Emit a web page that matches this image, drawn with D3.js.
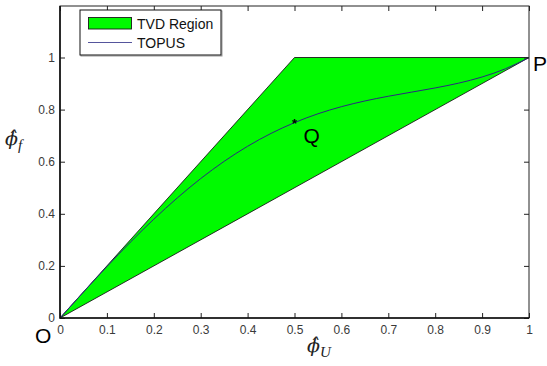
<!DOCTYPE html>
<html>
<head>
<meta charset="utf-8">
<script src="https://cdn.jsdelivr.net/npm/d3@7/dist/d3.min.js"></script>
<style>
  html, body { margin: 0; padding: 0; background: #fff; }
  svg { display: block; }
  .tick text { font-family: "Liberation Sans", Arial, sans-serif; font-size: 12px; fill: #3a3a3a; }
  .tick line { stroke: #222; stroke-width: 1; }
</style>
</head>
<body>
<svg id="chart" width="547" height="366"></svg>
<script>
// Normalised upwind value (phi_U) and face value (phi_f) of the TOPUS scheme
const topusU = [0, 0.05, 0.1, 0.15, 0.2, 0.25, 0.3, 0.35, 0.4, 0.45, 0.5,
                0.55, 0.6, 0.65, 0.7, 0.75, 0.8, 0.85, 0.9, 0.95, 1];
const topusF = [0, 0.0996, 0.1972, 0.2909, 0.3792, 0.4609, 0.5352, 0.6014, 0.6592, 0.7086, 0.75,
                0.7839, 0.8112, 0.8331, 0.8512, 0.8672, 0.8832, 0.9016, 0.9252, 0.9569, 1];

// Corners of the TVD region in the normalised variable diagram
const tvdU = [0, 0.5, 1];
const tvdF = [0, 1, 1];

// Axis ticks
const xTicks = [0, 0.1, 0.2, 0.3, 0.4, 0.5, 0.6, 0.7, 0.8, 0.9, 1];
const yTicks = [0, 0.2, 0.4, 0.6, 0.8, 1];

// Labelled points
const pointNames = ["O", "Q", "P"];
const pointU = [0, 0.5, 1];
const pointF = [0, 0.75, 1];

const svg = d3.select("#chart");
const L = 60, R = 529, T = 6, B = 318;

const x = d3.scaleLinear().domain([0, 1]).range([L, R]);
const y = d3.scaleLinear().domain([0, 1.2]).range([B, B - 260.5 * 1.2]);

// TVD region
const region = tvdU.map((u, i) => [x(u), y(tvdF[i])]);
svg.append("path")
  .attr("d", d3.line()(region) + "Z")
  .attr("fill", "#00fa00")
  .attr("stroke", "#1a1a1a")
  .attr("stroke-width", 0.9);

// TOPUS curve
const curve = topusU.map((u, i) => [u, topusF[i]]);
svg.append("path")
  .datum(curve)
  .attr("d", d3.line().x(d => x(d[0])).y(d => y(d[1])).curve(d3.curveMonotoneX))
  .attr("fill", "none")
  .attr("stroke", "#2a2a80")
  .attr("stroke-width", 1);

// Axes with inward ticks
svg.append("g").attr("transform", `translate(0,${B})`)
  .call(d3.axisBottom(x).tickValues(xTicks).tickSize(-5).tickSizeOuter(0).tickPadding(7)
    .tickFormat(d => d3.format("")(d)))
  .call(g => g.select(".domain").remove());
svg.append("g").attr("transform", `translate(0,${T})`)
  .call(d3.axisTop(x).tickValues(xTicks).tickSize(-5).tickSizeOuter(0).tickFormat(""))
  .call(g => g.select(".domain").remove());
svg.append("g").attr("transform", `translate(${L},0)`)
  .call(d3.axisLeft(y).tickValues(yTicks).tickSize(-5).tickSizeOuter(0).tickPadding(5)
    .tickFormat(d => d3.format("")(d)))
  .call(g => g.select(".domain").remove());
svg.append("g").attr("transform", `translate(${R},0)`)
  .call(d3.axisRight(y).tickValues(yTicks).tickSize(-5).tickSizeOuter(0).tickFormat(""))
  .call(g => g.select(".domain").remove());

// Axes box
svg.append("rect")
  .attr("x", L).attr("y", T).attr("width", R - L).attr("height", B - T)
  .attr("fill", "none").attr("stroke", "#222").attr("stroke-width", 1);
svg.append("path")
  .attr("d", `M${L},${T}V${B}H${R}`)
  .attr("fill", "none").attr("stroke", "#111").attr("stroke-width", 1.6);

// Marker at Q
svg.append("text")
  .attr("x", x(pointU[1])).attr("y", y(pointF[1]) + 5)
  .attr("text-anchor", "middle")
  .attr("font-family", "Liberation Sans, Arial, sans-serif")
  .attr("font-size", 13).attr("font-weight", "bold")
  .text("*");

// Point labels
const labelFont = "Liberation Sans, Arial, sans-serif";
const labelPos = [[-25, 25], [9, 20], [4, 13]];
pointNames.forEach((name, i) => {
  svg.append("text")
    .attr("x", x(pointU[i]) + labelPos[i][0])
    .attr("y", y(pointF[i]) + labelPos[i][1])
    .attr("font-family", labelFont)
    .attr("font-size", 21)
    .attr("fill", "#000")
    .text(name);
});

// Axis labels: phi hat with subscript, set as one text run
function phiHat(px, py, sub) {
  const t = svg.append("text")
    .attr("x", px).attr("y", py)
    .attr("font-family", "DejaVu Serif, Liberation Serif, serif")
    .attr("font-style", "italic").attr("font-size", 19)
    .attr("fill", "#222");
  t.append("tspan").text("\u03D5\u0302");
  t.append("tspan")
    .attr("dy", 5)
    .attr("font-family", "Liberation Serif, serif")
    .attr("font-size", 15)
    .text(sub);
}
phiHat(307, 352, "U");
phiHat(5, 145, "f");

// Legend
const lg = svg.append("g");
lg.append("rect").attr("x", 81).attr("y", 11).attr("width", 141).attr("height", 45)
  .attr("fill", "none").attr("stroke", "#999").attr("stroke-width", 1);
lg.append("rect").attr("x", 80).attr("y", 10).attr("width", 141).attr("height", 45)
  .attr("fill", "#fff").attr("stroke", "#111").attr("stroke-width", 1);
lg.append("rect").attr("x", 88.5).attr("y", 17.5).attr("width", 43).attr("height", 11.5)
  .attr("fill", "#00fa00").attr("stroke", "#1a1a1a").attr("stroke-width", 0.9);
lg.append("line").attr("x1", 88).attr("x2", 132).attr("y1", 42.5).attr("y2", 42.5)
  .attr("stroke", "#55559c").attr("stroke-width", 1);
const legendNames = ["TVD Region", "TOPUS"];
const legendY = [29, 48];
legendNames.forEach((n, i) => {
  lg.append("text").attr("x", 137).attr("y", legendY[i])
    .attr("font-family", labelFont).attr("font-size", 14)
    .attr("fill", "#111")
    .text(n);
});
</script>
</body>
</html>
